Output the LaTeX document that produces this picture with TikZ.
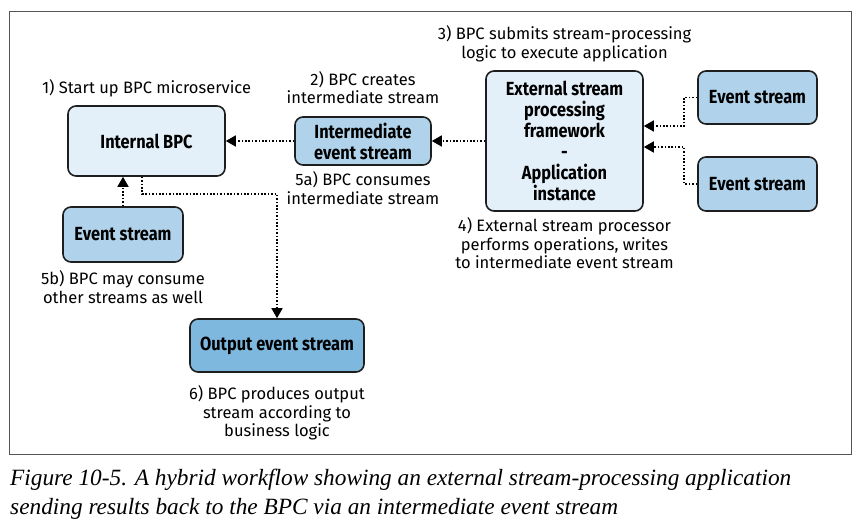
\documentclass[tikz,border=0pt]{standalone}
\usepackage{fontspec}
\setmainfont{Fira Sans}
\newfontfamily\boxfont{Fira Sans}[FakeStretch=0.86]
\newfontfamily\captionfont{Liberation Serif}
\usetikzlibrary{arrows.meta,positioning}
\definecolor{framegray}{RGB}{85,85,85}
\definecolor{palebpc}{RGB}{228,240,249}
\definecolor{streamblue}{RGB}{176,211,235}
\definecolor{outblue}{RGB}{127,184,223}
\definecolor{inkline}{RGB}{30,30,30}

\begin{document}
\begin{tikzpicture}[
        x=1pt, y=-1pt,
        node distance=8pt,
        procbox/.style={draw=inkline, line width=1.6pt, rounded corners=8pt, align=center, font=\boxfont\bfseries\fontsize{19}{21}\selectfont, fill=palebpc},
        streambox/.style={procbox, fill=streamblue},
        outbox/.style={procbox, fill=outblue},
        steplabel/.style={align=center, inner sep=0pt, font=\fontsize{16.5}{18.5}\selectfont},
        arr/.style={-{Triangle[length=10pt,width=11pt]}, line width=1.6pt, dash pattern=on 1.6pt off 1.8pt}
    ]
    \useasboundingbox (0,0) rectangle (864,529);
    \draw[framegray, line width=1pt] (9,12) rectangle (851,454);

    \node[procbox, minimum width=157pt, minimum height=70pt] (bpc) at (146.5,141) {Internal BPC};
    \node[streambox, minimum width=136pt, minimum height=48pt] (inter) at (363,141) {Intermediate\\event stream};
    \node[procbox, minimum width=157pt, minimum height=140pt] (ext) at (564.5,141) {External stream\\processing\\framework\\-\\Application\\instance};
    \node[streambox, minimum width=119pt, minimum height=53pt] (esa) at (757.5,97.5) {Event stream};
    \node[streambox, minimum width=119pt, minimum height=54pt] (esb) at (757.5,184) {Event stream};
    \node[streambox, minimum width=120pt, minimum height=55pt] (esc) at (123,234.5) {Event stream};
    \node[outbox, minimum width=174pt, minimum height=53pt] (out) at (277,345.5) {Output event stream};

    \node[steplabel, above=8pt of bpc] (lblstart) {1) Start up BPC microservice};
    \node[steplabel, above=12pt of inter] (lblcreate) {2) BPC creates\\intermediate stream};
    \node[steplabel, below=6pt of inter] (lblconsume) {5a) BPC consumes\\intermediate stream};
    \node[steplabel, above=8pt of ext] (lblsubmit) {3) BPC submits stream-processing\\logic to execute application};
    \node[steplabel, below=6pt of ext] (lblperform) {4) External stream processor\\performs operations, writes\\to intermediate event stream};
    \node[steplabel, below=8pt of esc] (lblother) {5b) BPC may consume\\other streams as well};
    \node[steplabel, below=13pt of out] (lblproduce) {6) BPC produces output\\stream according to\\business logic};

    \draw[arr] (ext) -- (inter);
    \draw[arr] (inter) -- (bpc);
    \draw[arr] (esa.west) -- ++(-13,0) |- ([yshift=15pt]ext.east);
    \draw[arr] (esb.west) -- ++(-13,0) |- ([yshift=-6pt]ext.east);
    \draw[arr] (esc.north) -- (esc.north |- bpc.south);
    \draw[arr] ([xshift=-4.5pt]bpc.south) -- ++(0,17) -| (out.north);

    \node[anchor=north west, inner sep=0pt, align=left, font=\captionfont\itshape\fontsize{23.3}{29}\selectfont] (caption) at (10,469) {Figure 10-5. A hybrid workflow showing an external stream-processing application\\sending results back to the BPC via an intermediate event stream};
\end{tikzpicture}
\end{document}
